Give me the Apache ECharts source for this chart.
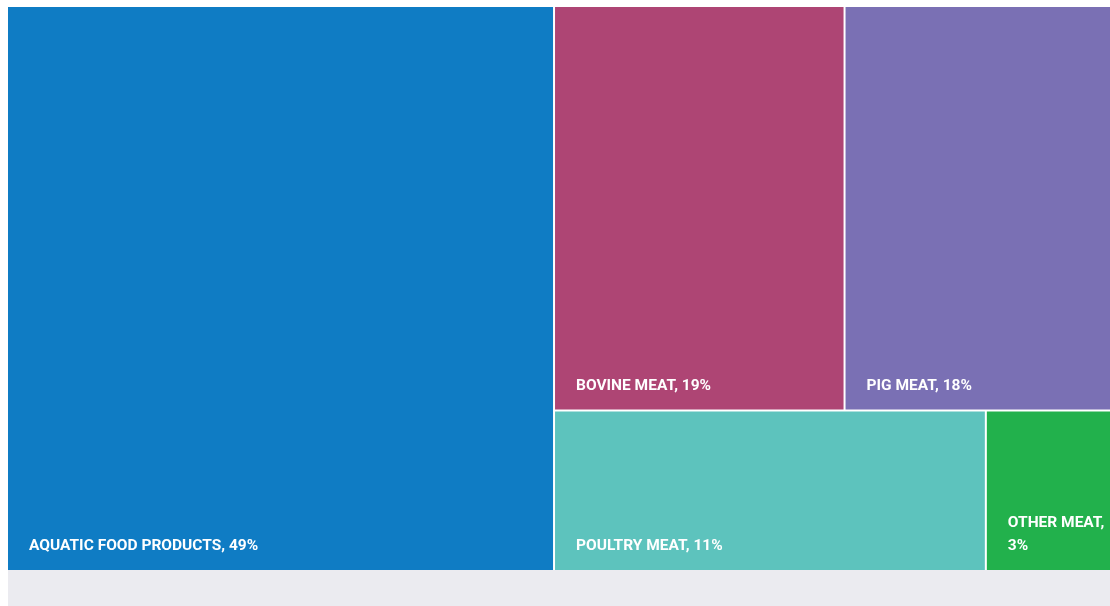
<!DOCTYPE html>
<html>
<head>
<meta charset="utf-8">
<title>Meat and aquatic food shares</title>
<script src="https://cdn.jsdelivr.net/npm/echarts@6/dist/echarts.min.js"></script>
<style>
  html, body {
    margin: 0;
    padding: 0;
    background: #ffffff;
  }
  #chart {
    position: absolute;
    left: 8px;
    top: 7px;
    width: 1102px;
    height: 599px;
    background: #ebebf0;
  }
</style>
</head>
<body>
<div id="chart"></div>
<script>
// 分类名称
const categories = ['AQUATIC FOOD PRODUCTS', 'BOVINE MEAT', 'PIG MEAT', 'POULTRY MEAT', 'OTHER MEAT']
// 标签上显示的百分比
const shareLabels = ['49%', '19%', '18%', '11%', '3%']
// 面积（按图中矩形大小读取）
const shareValues = [49.55, 18.84, 17.28, 11.11, 3.22]
const colors = ['#0f7cc4', '#ae4574', '#7a70b4', '#5dc3bd', '#22b14c']
// 窄格子里百分比换行
const wrapLabel = [false, false, false, false, true]

const chart = echarts.init(document.getElementById('chart'))

const option = {
  animation: false,
  series: [
    {
      type: 'treemap',
      left: 0,
      top: 0,
      right: 0,
      bottom: 36,
      roam: false,
      nodeClick: false,
      breadcrumb: { show: false },
      levels: [
        {
          itemStyle: {
            borderWidth: 0,
            gapWidth: 2,
            borderColor: '#ffffff'
          }
        },
        {
          itemStyle: {
            borderWidth: 0
          }
        }
      ],
      label: {
        show: true,
        position: 'insideBottomLeft',
        distance: 0,
        padding: [0, 0, 12, 21],
        color: '#ffffff',
        fontFamily: 'Roboto',
        fontWeight: 'bold',
        fontSize: 15.5,
        lineHeight: 23,
        formatter: (p) => p.data.label
      },
      data: categories.map((name, i) => ({
        name: name,
        value: shareValues[i],
        label: name + (wrapLabel[i] ? ',\n' : ', ') + shareLabels[i],
        itemStyle: { color: colors[i] }
      }))
    }
  ]
}

chart.setOption(option)

window.addEventListener('resize', () => {
  chart.resize()
})
</script>
</body>
</html>
